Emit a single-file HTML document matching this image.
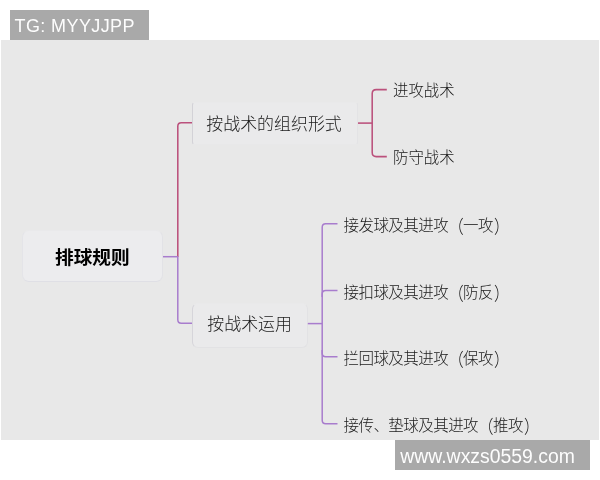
<!DOCTYPE html>
<html lang="zh-CN">
<head>
<meta charset="utf-8">
<title>排球规则</title>
<style>
html,body{margin:0;padding:0;background:#fff;}
body{width:600px;height:480px;position:relative;overflow:hidden;font-family:"Liberation Sans","Noto Sans CJK SC",sans-serif;}
.stage{position:absolute;left:0;top:0;width:600px;height:480px;filter:blur(0.45px);}
.panel{position:absolute;left:1.2px;top:40px;width:597.7px;height:399.75px;background:#e8e8e8;}
.tag{position:absolute;left:10px;top:10px;width:139px;height:30px;background:#a9a9a9;color:#fdfdfd;font-size:18px;letter-spacing:0.4px;line-height:30px;white-space:nowrap;}
.tag span{position:absolute;left:4.500px;top:0.500px;}
.wm{position:absolute;left:395.300px;top:440px;width:194.500px;height:30px;background:#a9a9a9;color:#fdfdfd;font-size:19.400px;line-height:30px;white-space:nowrap;}
.wm span{position:absolute;left:5px;top:0.500px;}
.node{position:absolute;box-sizing:border-box;background:#eaeaeb;border:1px solid #e2e2e4;border-radius:5px;}
.t{position:absolute;white-space:nowrap;color:#1a1a1a;font-weight:300;line-height:1;}
.root{font-weight:700;color:#000;font-size:18.700px;}
.l1{font-size:16.950px;}
.l2{font-size:15.500px;letter-spacing:-0.55px;}
.q{margin-left:1px;}
.p{display:inline-block;transform:translateY(1px) scaleY(1.17);font-weight:200;}
.l2b{font-size:15.400px;}
svg{position:absolute;left:0;top:0;}
</style>
</head>
<body>
<div class="stage">
<div class="panel"></div>
<div class="tag"><span>TG: MYYJJPP</span></div>
<div class="wm"><span>www.wxzs0559.com</span></div>

<div class="node" style="left:22px;top:230px;width:141px;height:52px;border-radius:7px;background:#ececee;border-color:#e9e9eb #e2e2e6 #dfdfe5 #e4e4e8;"></div>
<div class="node" style="left:192px;top:101.500px;width:166px;height:43.500px;border-radius:3px;border-color:#e9e9ea #e3e3e5 #e8e8e9 #d3d2d7;"></div>
<div class="node" style="left:192px;top:303px;width:115.800px;height:45.200px;border-radius:6px;border-left-color:#d6d5da;border-top-color:#e9e9ea;"></div>

<svg width="600" height="480" viewBox="0 0 600 480" fill="none" stroke-width="1.5" stroke-linecap="butt">
  <g stroke="#bb517c" stroke-width="1.55">
    <path d="M177.800 257 V126.300 Q177.800 122.800 181.300 122.800 H192"/>
    <path d="M358 123.100 H372.200"/>
    <path d="M386.800 89.600 H376.200 Q372.200 89.600 372.200 93.600 V152.600 Q372.200 156.600 376.200 156.600 H386.800"/>
  </g>
  <g stroke="#a87ccd">
    <path d="M163 256.700 H177.800"/>
    <path d="M177.800 256.500 V319.800 Q177.800 323.300 181.300 323.300 H192"/>
    <path d="M307.800 323.600 H322.200"/>
    <path d="M337.500 223.700 H325.700 Q322.200 223.700 322.200 227.200 V420.250 Q322.200 423.750 325.700 423.750 H337.500"/>
    <path d="M322.200 297 V294.100 Q322.200 290.600 325.700 290.600 H337.500"/>
    <path d="M322.200 350 V353.200 Q322.200 356.700 325.700 356.700 H337.500"/>
  </g>
</svg>

<div class="t root" style="left:55px;top:248.500px;">排球规则</div>
<div class="t l1" style="left:206.300px;top:117px;">按战术的组织形式</div>
<div class="t l1" style="left:207.300px;top:316.800px;">按战术运用</div>
<div class="t l2b" style="left:393px;top:82.600px;">进攻战术</div>
<div class="t l2b" style="left:393px;top:149.800px;">防守战术</div>
<div class="t l2" style="left:343.500px;top:217.500px;">接发球及其进攻<span class="p">（</span>一攻<span class="p q">）</span></div>
<div class="t l2" style="left:343.500px;top:285.200px;">接扣球及其进攻<span class="p">（</span>防反<span class="p q">）</span></div>
<div class="t l2" style="left:343.500px;top:351.200px;">拦回球及其进攻<span class="p">（</span>保攻<span class="p q">）</span></div>
<div class="t l2" style="left:343.500px;top:418.200px;">接传、垫球及其进攻<span class="p">（</span>推攻<span class="p q">）</span></div>
</div>
</body>
</html>
